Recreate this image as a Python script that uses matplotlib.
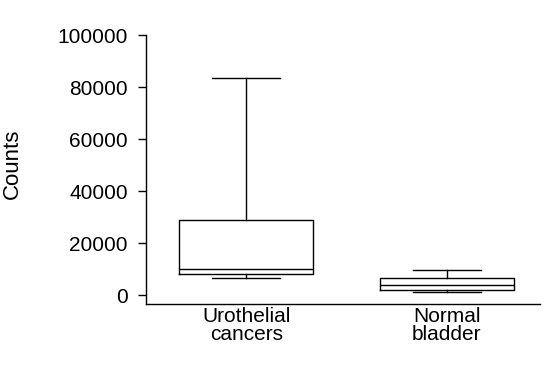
import matplotlib
matplotlib.use("Agg")
import matplotlib.pyplot as plt

plt.rcParams['font.family'] = ['Liberation Sans', 'DejaVu Sans']

categories = ["Urothelial\ncancers", "Normal\nbladder"]
whisker_low = [6500, 1150]
q1 = [8100, 1900]
median = [10200, 3850]
q3 = [28850, 6550]
whisker_high = [83500, 9600]
yticks = [0, 20000, 40000, 60000, 80000, 100000]

stats = []
for i, c in enumerate(categories):
    stats.append(dict(label=c, whislo=whisker_low[i], q1=q1[i], med=median[i],
                      q3=q3[i], whishi=whisker_high[i], fliers=[]))

fig = plt.figure(figsize=(5.53, 3.69), dpi=100)
ax = fig.add_axes([0.2635, 0.1753, 0.713, 0.7298])

lw = 1.0
ax.bxp(stats, positions=[1, 2], widths=0.67, showfliers=False,
       boxprops=dict(color='black', linewidth=lw),
       medianprops=dict(color='black', linewidth=lw),
       whiskerprops=dict(color='black', linewidth=lw),
       capprops=dict(color='black', linewidth=lw),
       capwidths=0.34)

ax.set_xlim(0.498, 2.466)
ax.set_ylim(-3460, 100000)
ax.set_yticks(yticks)
ax.set_yticklabels([str(v) for v in yticks])
ax.spines['top'].set_visible(False)
ax.spines['right'].set_visible(False)
ax.spines['left'].set_bounds(-3460, 100000)
for s in ['left', 'bottom']:
    ax.spines[s].set_linewidth(lw)
ax.tick_params(axis='y', length=6, width=lw, pad=7, labelsize=15)
ax.tick_params(axis='x', length=0, pad=2, labelsize=15)
for t in ax.get_xticklabels():
    t.set_linespacing(0.95)
ax.set_ylabel("Counts", fontsize=16, labelpad=25)
ax.yaxis.label.set_y(0.52)

fig.savefig("out.png", dpi=100)
